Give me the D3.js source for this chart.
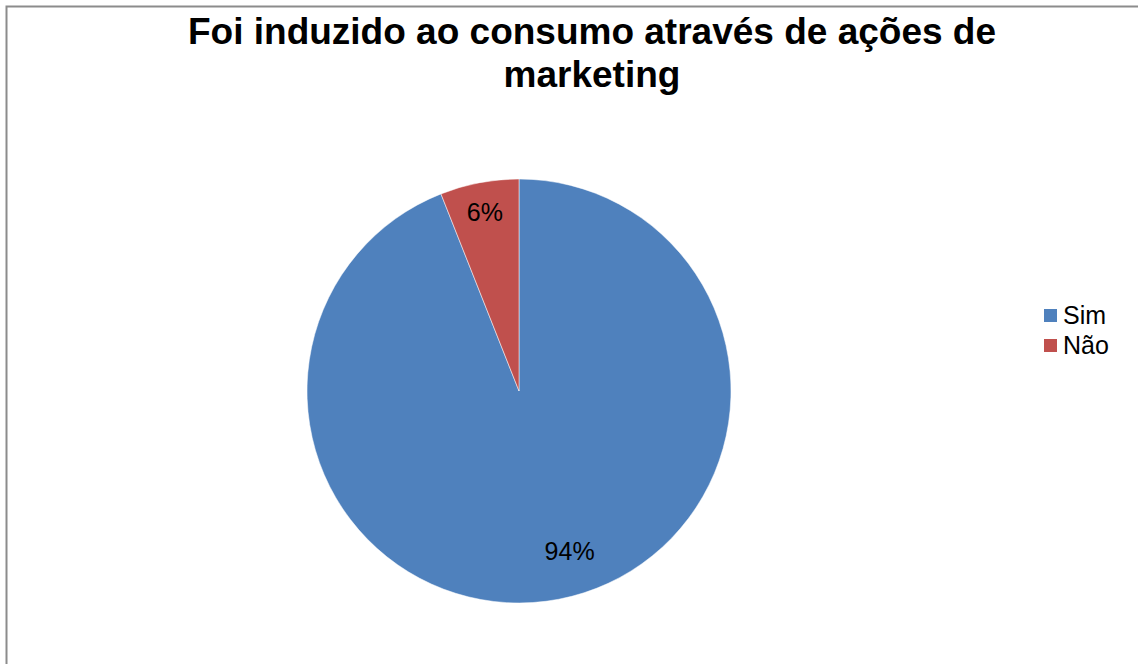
<!DOCTYPE html>
<html>
<head>
<meta charset="utf-8">
<script src="https://cdn.jsdelivr.net/npm/d3@7"></script>
<style>
  html, body { margin: 0; padding: 0; background: #fff; }
  svg { display: block; font-family: "Liberation Sans", Arial, sans-serif; }
</style>
</head>
<body>
<svg id="chart" width="1138" height="664"></svg>
<script>
// Survey answers: share of respondents (%)
const categories = ["Sim", "Não"];
const values = [94, 6];
const colors = ["#4F81BD", "#C0504D"];
const titleLines = ["Foi induzido ao consumo através de ações de", "marketing"];

const svg = d3.select("#chart");

// Chart frame
svg.append("rect")
  .attr("x", 6.5).attr("y", 6.5)
  .attr("width", 1200).attr("height", 700)
  .attr("fill", "#fff")
  .attr("stroke", "#8c8c8c")
  .attr("stroke-width", 2);

// Title
const title = svg.append("text")
  .attr("text-anchor", "middle")
  .attr("font-size", 37)
  .attr("font-weight", "bold")
  .attr("fill", "#000");
titleLines.forEach((t, i) => {
  title.append("tspan").attr("x", 592).attr("y", 44 + i * 43).text(t);
});

// Pie
const cx = 519, cy = 391, r = 212;
const color = d3.scaleOrdinal().domain(categories).range(colors);
const data = categories.map((c, i) => ({ cat: c, val: values[i] }));
const pie = d3.pie().sort(null).value(d => d.val);
const arcs = pie(data);
const arc = d3.arc().innerRadius(0).outerRadius(r);

const g = svg.append("g").attr("transform", `translate(${cx},${cy})`);
g.selectAll("path")
  .data(arcs)
  .join("path")
  .attr("d", arc)
  .attr("fill", d => color(d.data.cat))
  .attr("stroke", "#fff")
  .attr("stroke-width", 0.5);

// Percentage labels
const labelArc = d3.arc().innerRadius(r * 0.86).outerRadius(r * 0.86);
const labelArcBig = d3.arc().innerRadius(r * 0.77).outerRadius(r * 0.77);
g.selectAll("text.pct")
  .data(arcs)
  .join("text")
  .attr("class", "pct")
  .attr("transform", d => {
    const big = d.data.val > 50;
    const [x, y] = (big ? labelArcBig : labelArc).centroid(d);
    return `translate(${x + (big ? 20 : 0)},${y})`;
  })
  .attr("text-anchor", "middle")
  .attr("dy", "0.35em")
  .attr("font-size", 25)
  .attr("fill", "#000")
  .text(d => d.data.val + "%");

// Legend
const legend = svg.append("g").attr("transform", "translate(1044,309)");
const items = legend.selectAll("g")
  .data(categories)
  .join("g")
  .attr("transform", (d, i) => `translate(0,${i * 30})`);
items.append("rect")
  .attr("width", 13).attr("height", 13)
  .attr("fill", d => color(d));
items.append("text")
  .attr("x", 19).attr("y", 15)
  .attr("font-size", 25)
  .attr("fill", "#000")
  .text(d => d);
</script>
</body>
</html>
